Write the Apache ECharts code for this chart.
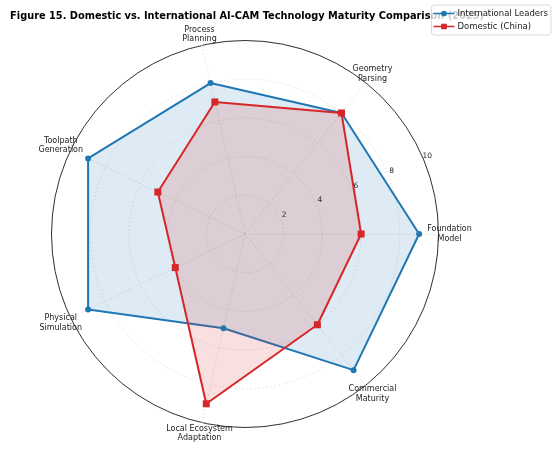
<!DOCTYPE html>
<html>
<head>
<meta charset="utf-8">
<script src="https://cdn.jsdelivr.net/npm/echarts@6/dist/echarts.min.js"></script>
<style>
  html, body { margin: 0; padding: 0; background: #fff; }
  #chart { width: 557px; height: 449px; }
</style>
</head>
<body>
<div id="chart"></div>
<script>
// axes, counter-clockwise from 3 o'clock
var categories = ['Foundation\nModel', 'Geometry\nParsing', 'Process\nPlanning', 'Toolpath\nGeneration',
                  'Physical\nSimulation', 'Local Ecosystem\nAdaptation', 'Commercial\nMaturity'];
var international = [9, 8, 8, 9, 9, 5, 9];
var domestic = [6, 8, 7, 5, 4, 9, 6];
var radialTicks = [2, 4, 6, 8, 10];

var blue = '#1f77b4';
var red = '#d62728';
var font = 'DejaVu Sans';

var chart = echarts.init(document.getElementById('chart'));

var option = {
    animation: false,
    backgroundColor: '#fff',
    textStyle: { fontFamily: font },
    title: {
        text: 'Figure 15. Domestic vs. International AI-CAM Technology Maturity Comparison (2025)',
        left: 242, top: 6,
        textAlign: 'center',
        z: 1,
        textStyle: { fontFamily: font, fontSize: 9.8, fontWeight: 'bold', color: '#000' }
    },
    legend: {
        right: 6, top: 5,
        z: 10,
        orient: 'vertical',
        itemWidth: 21, itemHeight: 8, itemGap: 4,
        padding: [4, 3, 4, 2],
        backgroundColor: 'rgba(255,255,255,0.8)',
        borderColor: '#d0d0d0', borderWidth: 0.8, borderRadius: 3,
        textStyle: { fontFamily: font, fontSize: 8.5, color: '#222', padding: [0, 0, 0, -2] },
        data: [
            { name: 'International Leaders', icon: 'path://M0,3.2H22V4.8H0Z M14,4A3,3 0 1 1 8,4A3,3 0 1 1 14,4Z' },
            { name: 'Domestic (China)', icon: 'path://M0,3.2H22V4.8H0Z M8,1H14V7H8Z' }
        ]
    },
    radar: {
        center: [245, 234],
        radius: 193.5,
        startAngle: 0,
        shape: 'circle',
        splitNumber: 5,
        nameGap: 11,
        axisName: {
            fontFamily: font, fontSize: 8, color: '#222', lineHeight: 9.5,
            align: 'center', verticalAlign: 'middle'
        },
        indicator: categories.map(function (c) { return { name: c, max: 10, min: 0 }; }),
        splitArea: { show: false },
        splitLine: { lineStyle: { color: '#d8d8d8', type: [1.5, 2.5], width: 0.8 } },
        axisLine: { lineStyle: { color: '#e2e2e2', type: [1.5, 2.5], width: 0.8 } },
        axisLabel: { show: false },
        axisTick: { show: false }
    },
    polar: { center: [245, 234], radius: 193.5 },
    angleAxis: {
        type: 'value', min: 0, max: 360, startAngle: 22.5,
        axisLine: { show: true, lineStyle: { color: '#333', width: 1 } },
        axisTick: { show: false }, axisLabel: { show: false }, splitLine: { show: false }
    },
    radiusAxis: {
        type: 'value', min: 0, max: 10, interval: 2,
        axisLine: { show: false }, axisTick: { show: false }, splitLine: { show: false },
        axisLabel: {
            margin: 0, fontFamily: font, fontSize: 7.5, color: '#222',
            align: 'center', verticalAlign: 'bottom',
            padding: [0, 0, 0, 7],
            formatter: function (v) { return radialTicks.indexOf(v) >= 0 ? String(v) : ''; }
        }
    },
    series: [
        {
            name: 'International Leaders',
            type: 'radar',
            symbol: 'circle', symbolSize: 6,
            lineStyle: { color: blue, width: 2 },
            itemStyle: { color: blue },
            areaStyle: { color: blue, opacity: 0.15 },
            data: [{ name: 'International Leaders', value: international }]
        },
        {
            name: 'Domestic (China)',
            type: 'radar',
            symbol: 'rect', symbolSize: 7,
            lineStyle: { color: red, width: 2 },
            itemStyle: { color: red },
            areaStyle: { color: red, opacity: 0.15 },
            data: [{ name: 'Domestic (China)', value: domestic }]
        }
    ]
};

chart.setOption(option);
</script>
</body>
</html>
